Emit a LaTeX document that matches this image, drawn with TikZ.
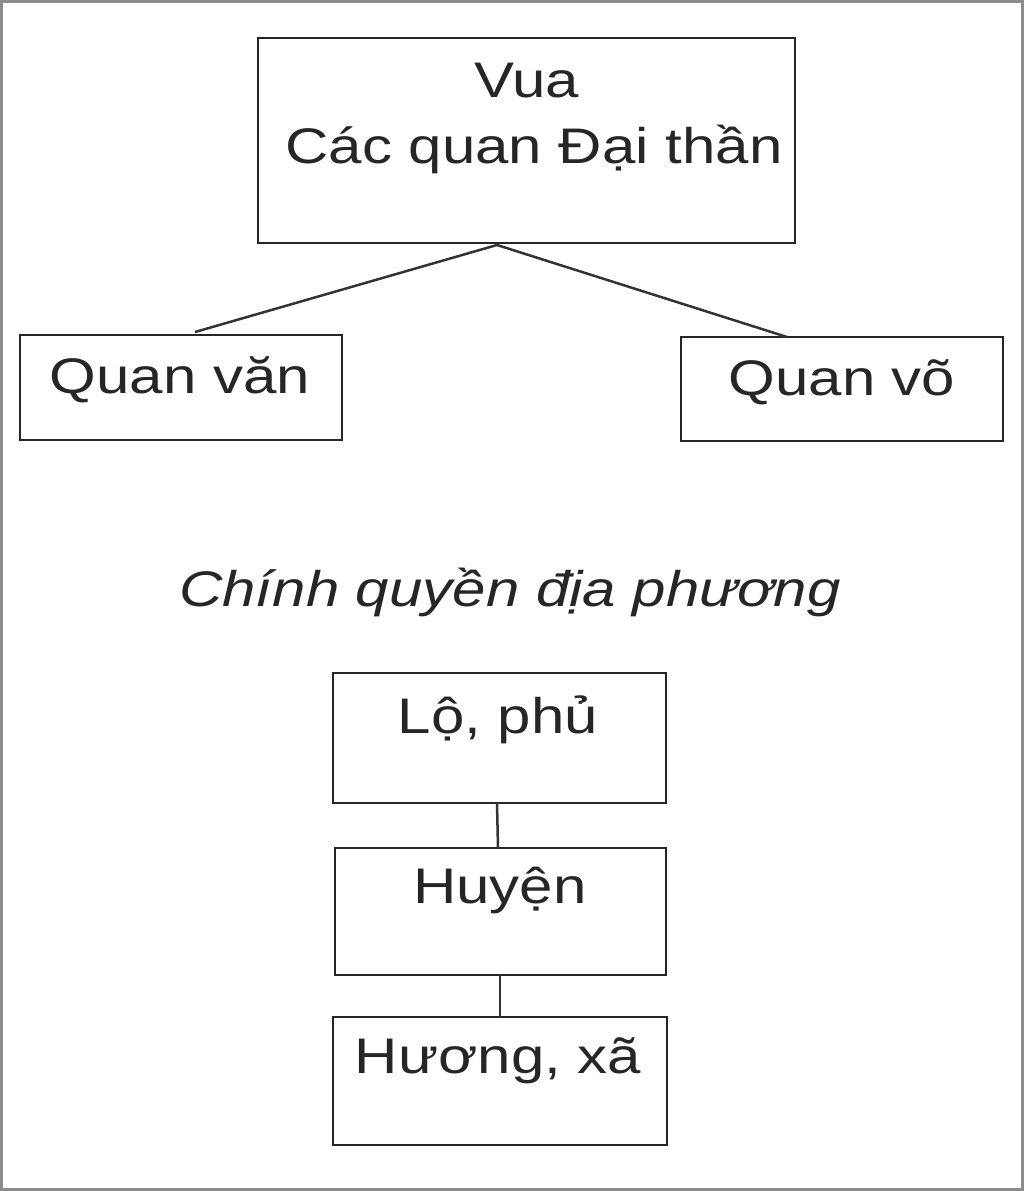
\documentclass[tikz,border=0pt]{standalone}
\usepackage{fontspec}
\setmainfont[FakeStretch=1.2]{Liberation Sans}
\begin{document}
\begin{tikzpicture}[x=1pt,y=-1pt,
  box/.style={draw=black!85,line width=2.5pt},
  lbl/.style={anchor=base,inner sep=0pt,font=\fontsize{50}{60}\selectfont,text=black!85},
  conn/.style={draw=black!80,line width=2.5pt}]
\useasboundingbox (0,0) rectangle (1024,1191);
\draw[black!45,line width=3pt] (1.5,1.5) rectangle (1022.5,1189.5);
\draw[box] (258,38) rectangle (795,243);
\draw[box] (20,335) rectangle (342,440);
\draw[box] (681,337) rectangle (1003,441);
\draw[box] (333,673) rectangle (666,803);
\draw[box] (335,848) rectangle (666,975);
\draw[box] (333,1017) rectangle (667,1145);
\coordinate (top) at (497,245);
\coordinate (qv1) at (195,332);
\coordinate (qv2) at (787,337);
\coordinate (l1) at (497,803); \coordinate (h1) at (498,848);
\coordinate (h2) at (500,975); \coordinate (x1) at (500,1017);
\draw[conn] (top) -- (qv1);
\draw[conn] (top) -- (qv2);
\draw[conn] (l1) -- (h1);
\draw[conn] (h2) -- (x1);
\node[lbl] (vua) at (527,97) {Vua};
\node[lbl] (dt) at (534,163) {Các quan Đại thần};
\node[lbl] (van) at (180,393) {Quan văn};
\node[lbl] (vo) at (842,395) {Quan võ};
\node[lbl,font=\fontsize{50}{60}\itshape] (cq) at (510,606) {Chính quyền địa phương};
\node[lbl] (lo) at (498,733) {Lộ, phủ};
\node[lbl] (hu) at (500,903) {Huyện};
\node[lbl] (hx) at (498,1073) {Hương, xã};
\end{tikzpicture}
\end{document}
